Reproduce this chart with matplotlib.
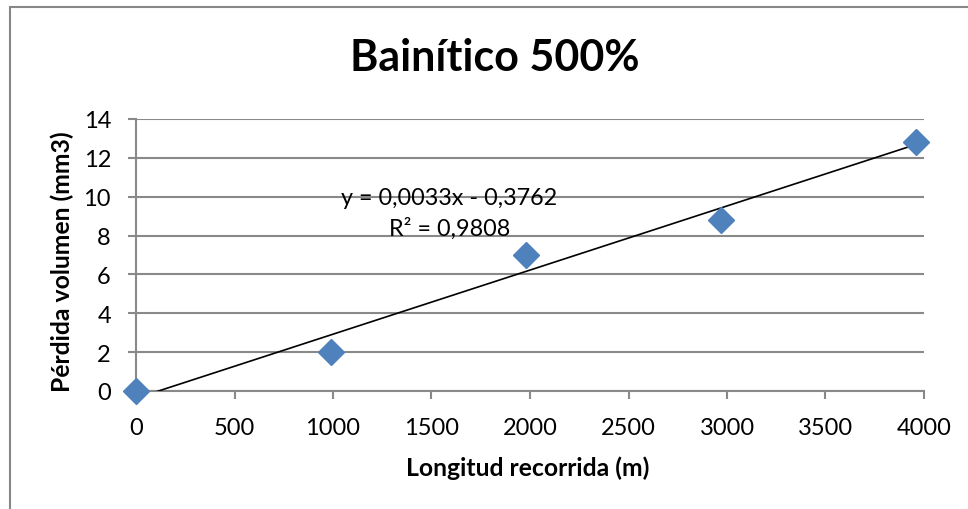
import matplotlib
matplotlib.use("Agg")
import matplotlib.pyplot as plt
from matplotlib.patches import Rectangle
import numpy as np

# Wear test data: sliding distance vs. volume loss
distance_m = [0, 990, 1980, 2970, 3960]
volume_loss_mm3 = [0.0, 2.0, 7.0, 8.8, 12.8]

# Linear trendline as reported on the chart
slope = 0.0033
intercept = -0.3762
r_squared = 0.9808

x_ticks = [0, 500, 1000, 1500, 2000, 2500, 3000, 3500, 4000]
y_ticks = [0, 2, 4, 6, 8, 10, 12, 14]

title = "Bainítico 500%"
x_label = "Longitud recorrida (m)"
y_label = "Pérdida volumen (mm3)"

plt.rcParams["font.family"] = ["Lato", "DejaVu Sans"]

W, H = 968, 510
fig = plt.figure(figsize=(W / 100, H / 100), dpi=100)

# Outer chart border
fig.patches.append(Rectangle((10 / W, -0.1), 1.2, (H - 7.5) / H + 0.1,
                             transform=fig.transFigure, fill=False,
                             edgecolor="#878787", linewidth=1.5))

ax = fig.add_axes([136 / W, 1 - 392 / H, 788 / W, 272 / H])
grid_c = "#898989"

ax.set_xlim(0, 4000)
ax.set_ylim(0, 14)
ax.set_xticks(x_ticks)
ax.set_yticks(y_ticks)
ax.set_xticklabels([str(v) for v in x_ticks])
ax.set_yticklabels([str(v) for v in y_ticks])
ax.yaxis.grid(True, color=grid_c, linewidth=1.5)
ax.set_axisbelow(True)

for s in ["top", "right"]:
    ax.spines[s].set_visible(False)
for s in ["left", "bottom"]:
    ax.spines[s].set_color(grid_c)
    ax.spines[s].set_linewidth(1.5)

ax.tick_params(axis="both", colors=grid_c, labelcolor="black",
               labelsize=17, length=6, width=1.5, direction="out")
ax.tick_params(axis="x", pad=13)
ax.tick_params(axis="y", pad=12)

# Trendline from the reported equation
xt = np.array([0, distance_m[-1]])
ax.plot(xt, slope * xt + intercept, color="black", linewidth=1.2,
        zorder=3, clip_on=True)

ax.plot(distance_m, volume_loss_mm3, linestyle="none", marker="D",
        markersize=13, color="#4F81BD", zorder=4, clip_on=False)

ax.text(1590, 9.95, f"y = {slope:.4f}x - {abs(intercept):.4f}".replace(".", ","),
        ha="center", va="center", fontsize=16.8)
ax.text(1590, 8.4, f"R² = {r_squared:.4f}".replace(".", ","),
        ha="center", va="center", fontsize=16.8)

fig.text(495 / W, 1 - 58 / H, title, ha="center", va="center",
         fontsize=31, fontweight="bold")
fig.text(528 / W, 1 - 468 / H, x_label, ha="center", va="center",
         fontsize=17.8, fontweight="bold")
fig.text(62 / W, 1 - 262 / H, y_label, ha="center", va="center",
         fontsize=17.8, fontweight="bold", rotation=90)

fig.savefig("out.png", dpi=100)
